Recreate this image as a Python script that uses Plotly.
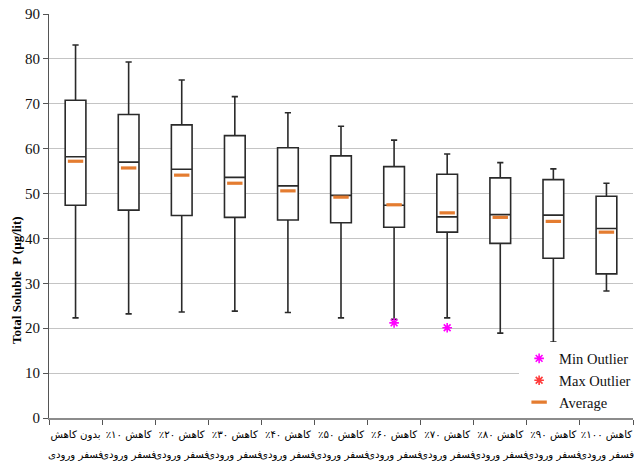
import plotly.graph_objects as go

RLM = "\u200f"
line2 = "فسفر ورودی"
line1_values = [
    "بدون کاهش",
    "کاهش ۱۰٪",
    "کاهش ۲۰٪",
    "کاهش ۳۰٪",
    "کاهش ۴۰٪",
    "کاهش ۵۰٪",
    "کاهش ۶۰٪",
    "کاهش ۷۰٪",
    "کاهش ۸۰٪",
    "کاهش ۹۰٪",
    "کاهش ۱۰۰٪",
]
categories = [RLM + a + RLM for a in line1_values]

upper_whisker = [83.1, 79.3, 75.3, 71.6, 68.0, 65.0, 61.9, 58.8, 56.9, 55.5, 52.3]
q3_values = [70.8, 67.6, 65.3, 62.9, 60.2, 58.4, 56.0, 54.3, 53.5, 53.1, 49.4]
median_values = [58.2, 57.0, 55.4, 53.6, 51.7, 49.6, 47.4, 44.8, 45.3, 45.2, 42.2]
mean_values = [57.2, 55.7, 54.1, 52.3, 50.6, 49.2, 47.5, 45.7, 44.7, 43.8, 41.4]
q1_values = [47.4, 46.3, 45.1, 44.7, 44.1, 43.5, 42.5, 41.4, 38.9, 35.6, 32.1]
lower_whisker = [22.3, 23.2, 23.6, 23.8, 23.5, 22.3, 22.0, 22.3, 18.9, 16.9, 28.3]
min_outlier_cats = [categories[6], categories[7]]
min_outlier_values = [21.2, 20.1]

serif = "Liberation Serif, Times New Roman, serif"
label_font = dict(family="DejaVu Sans, Noto Sans, sans-serif", size=10.2, color="#000")

fig = go.Figure()
fig.add_trace(go.Box(
    x=categories, q1=q1_values, median=median_values, q3=q3_values,
    lowerfence=lower_whisker, upperfence=upper_whisker,
    boxpoints=False, width=0.39, whiskerwidth=0.3,
    fillcolor="white", line=dict(color="#2a2a2a", width=1.6),
    showlegend=False, hoverinfo="skip",
))
fig.add_trace(go.Scatter(
    x=min_outlier_cats, y=min_outlier_values, mode="markers", name="Min Outlier",
    marker=dict(symbol="asterisk-open", size=8, color="#FF00FF",
                line=dict(color="#FF00FF", width=1.6)),
))
fig.add_trace(go.Scatter(
    x=[None], y=[None], mode="markers", name="Max Outlier",
    marker=dict(symbol="asterisk-open", size=8, color="#FF3B3B",
                line=dict(color="#FF3B3B", width=1.6)),
))
fig.add_trace(go.Scatter(
    x=categories, y=mean_values, mode="markers", name="Average",
    marker=dict(symbol="line-ew-open", size=11, color="#E47C30",
                line=dict(color="#E47C30", width=3.2)),
))

annotations = [dict(
    text="Total Soluble\u00a0 P (µg/lit)", textangle=-90,
    xref="paper", yref="paper", x=-0.0545, y=0.342,
    xanchor="center", yanchor="middle", showarrow=False,
    font=dict(family=serif, size=13, color="#000", weight="bold"),
)]
for c in categories:
    annotations.append(dict(
        text=RLM + line2 + RLM, xref="x", yref="paper", x=c, y=-0.0916,
        xanchor="center", yanchor="middle", showarrow=False, font=label_font,
    ))

fig.update_layout(
    width=637, height=464,
    margin=dict(l=49, r=1, t=14, b=46),
    paper_bgcolor="white", plot_bgcolor="white",
    showlegend=True,
    legend=dict(
        x=0.805, xanchor="left", y=0.187, yanchor="top",
        bgcolor="white", borderwidth=0,
        font=dict(family=serif, size=14.5, color="#111"),
        traceorder="normal", itemwidth=30, tracegroupgap=0,
    ),
    annotations=annotations,
)
fig.update_xaxes(
    type="category", range=[-0.5, 10.5], automargin=False,
    showgrid=False, showline=True, linecolor="#8c8c8c", linewidth=1.5,
    ticks="outside", tickson="boundaries", ticklen=5, tickcolor="#555",
    tickfont=label_font, tickangle=0, ticklabelstandoff=6,
)
fig.update_yaxes(
    range=[0, 90], dtick=10, automargin=False,
    showgrid=True, gridcolor="#c4c4c4", gridwidth=1,
    showline=True, linecolor="#555", linewidth=1,
    ticks="outside", ticklen=5, tickcolor="#555",
    tickfont=dict(family=serif, size=15, color="#111"),
    zeroline=False,
)

fig.write_html(
    "out.html",
    config={"displayModeBar": False},
    post_script="document.body.style.margin='0px';document.body.style.overflow='hidden';",
)
